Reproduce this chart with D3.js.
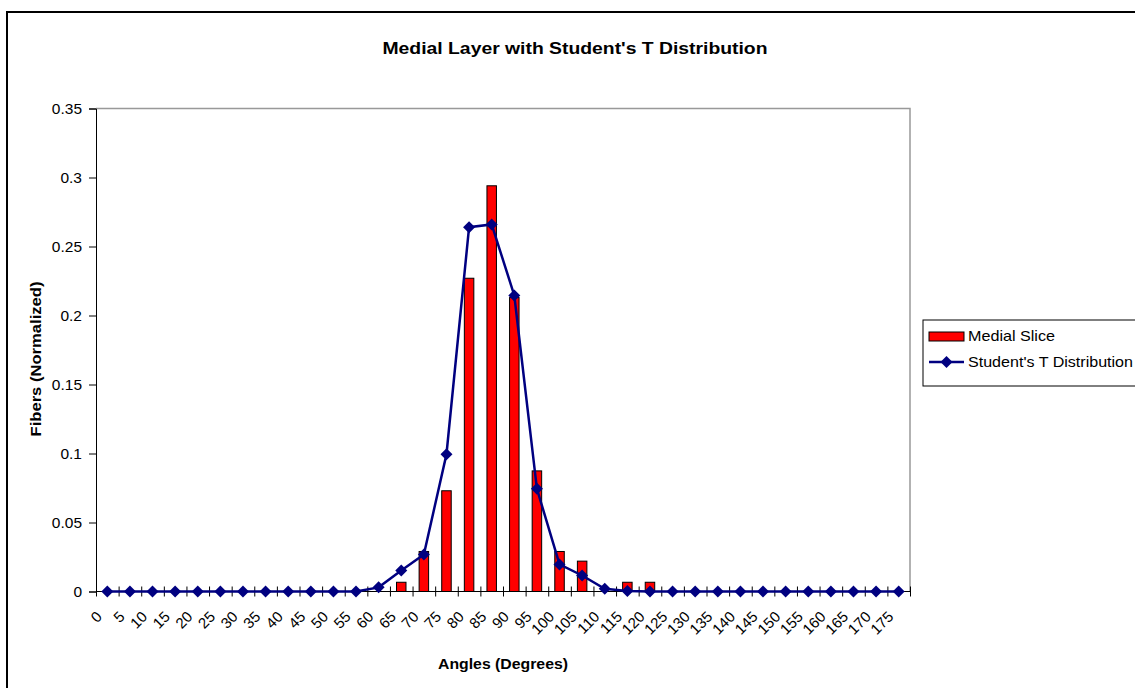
<!DOCTYPE html>
<html>
<head>
<meta charset="utf-8">
<script src="https://cdn.jsdelivr.net/npm/d3@7"></script>
<style>
  body { margin: 0; background: #fff; }
  text { font-family: "Liberation Sans", Arial, sans-serif; }
</style>
</head>
<body>
<div id="chart"></div>
<script>
// categories (angles) and the two series
var angles = ["0","5","10","15","20","25","30","35","40","45","50","55","60","65","70","75","80","85",
              "90","95","100","105","110","115","120","125","130","135","140","145","150","155","160","165","170","175"];
var medialSlice = [0,0,0,0,0,0,0,0,0,0,0,0,0,0.0067,0.029,0.073,0.227,0.294,
                   0.213,0.0874,0.029,0.022,0,0.0067,0.0067,0,0,0,0,0,0,0,0,0,0,0];
var studentT = [0,0,0,0,0,0,0,0,0,0,0,0,0.003,0.0152,0.0268,0.0995,0.264,0.266,
                0.2145,0.0744,0.0196,0.0116,0.002,0.0003,0,0,0,0,0,0,0,0,0,0,0,0];
var yTicks = [0, 0.05, 0.1, 0.15, 0.2, 0.25, 0.3, 0.35];
var yTickLabels = ["0","0.05","0.1","0.15","0.2","0.25","0.3","0.35"];

var W = 1135, H = 688;
var plot = {left: 96, right: 910, top: 108.5, bottom: 591.5};

var svg = d3.select("#chart").append("svg")
    .attr("width", W).attr("height", H);

// outer chart border
svg.append("rect")
    .attr("x", 7).attr("y", 12)
    .attr("width", W + 20).attr("height", H + 20)
    .attr("fill", "none").attr("stroke", "#000").attr("stroke-width", 2);

var x = d3.scaleBand().domain(angles).range([plot.left, plot.right]).padding(0);
var xb = d3.scaleLinear().domain([0, angles.length]).range([plot.left, plot.right]);
var y = d3.scaleLinear().domain([0, 0.35]).range([plot.bottom, plot.top]);

// plot area border (gray top/right)
svg.append("path")
    .attr("d", "M" + plot.left + "," + plot.top + "H" + plot.right + "V" + plot.bottom)
    .attr("fill", "none").attr("stroke", "#999").attr("stroke-width", 1.5);

// title
svg.append("text")
    .attr("x", 575).attr("y", 54)
    .attr("text-anchor", "middle")
    .attr("font-size", "17px").attr("font-weight", "bold")
    .attr("textLength", 385).attr("lengthAdjust", "spacingAndGlyphs")
    .text("Medial Layer with Student's T Distribution");

// y axis
var yAxis = svg.append("g")
    .attr("transform", "translate(" + plot.left + ",0)")
    .call(d3.axisLeft(y).tickValues(yTicks).tickSize(7).tickPadding(7)
        .tickFormat(function(d, i) { return yTickLabels[i]; }));
yAxis.select(".domain").attr("stroke", "#000");
yAxis.selectAll(".tick line").attr("stroke", "#000");
yAxis.selectAll("text").attr("font-size", "15.5px")
    .attr("font-family", "Liberation Sans, Arial, sans-serif").attr("fill", "#000");

// bars
var bw = x.bandwidth() * 0.42;
svg.append("g").selectAll("rect")
    .data(medialSlice.map(function(v, i) { return {a: angles[i], v: v}; }).filter(function(d) { return d.v > 0; }))
    .join("rect")
    .attr("x", function(d) { return x(d.a) + (x.bandwidth() - bw) / 2; })
    .attr("y", function(d) { return y(d.v); })
    .attr("width", bw)
    .attr("height", function(d) { return y(0) - y(d.v); })
    .attr("fill", "#ff0000")
    .attr("stroke", "#000").attr("stroke-width", 1);

// x axis with crossing ticks at category boundaries
var xAxis = svg.append("g")
    .attr("transform", "translate(0," + plot.bottom + ")")
    .call(d3.axisBottom(xb).tickValues(d3.range(angles.length + 1)).tickSize(6).tickFormat(""));
xAxis.select(".domain").attr("stroke", "#000").attr("d", "M" + plot.left + ",0H" + plot.right);
xAxis.selectAll(".tick line").attr("y1", -5).attr("y2", 5).attr("stroke", "#000");

// rotated x labels
svg.append("g").selectAll("text")
    .data(angles)
    .join("text")
    .attr("transform", function(d) {
        return "translate(" + (x(d) + x.bandwidth() / 2 - 8) + "," + 614 + ") rotate(-45)";
    })
    .attr("text-anchor", "end")
    .attr("dy", "0.35em")
    .attr("font-size", "15px")
    .text(function(d) { return d; });

// line series
var cx = function(i) { return x(angles[i]) + x.bandwidth() / 2; };
svg.append("path")
    .datum(studentT)
    .attr("fill", "none")
    .attr("stroke", "#000080")
    .attr("stroke-width", 2.5)
    .attr("d", d3.line()
        .x(function(d, i) { return cx(i); })
        .y(function(d) { return y(d); }));

var diamond = d3.symbol().type(d3.symbolSquare).size(72);
svg.append("g").selectAll("path")
    .data(studentT)
    .join("path")
    .attr("d", diamond)
    .attr("transform", function(d, i) { return "translate(" + cx(i) + "," + y(d) + ") rotate(45)"; })
    .attr("fill", "#000080");

// axis titles
svg.append("text")
    .attr("transform", "translate(41,359) rotate(-90)")
    .attr("text-anchor", "middle")
    .attr("font-size", "15px").attr("font-weight", "bold")
    .attr("textLength", 155).attr("lengthAdjust", "spacingAndGlyphs")
    .text("Fibers (Normalized)");

svg.append("text")
    .attr("x", 503).attr("y", 669)
    .attr("text-anchor", "middle")
    .attr("font-size", "15px").attr("font-weight", "bold")
    .attr("textLength", 130).attr("lengthAdjust", "spacingAndGlyphs")
    .text("Angles (Degrees)");

// legend
var lg = svg.append("g").attr("transform", "translate(923,320)");
lg.append("rect")
    .attr("width", 230).attr("height", 66)
    .attr("fill", "#fff").attr("stroke", "#000").attr("stroke-width", 1);
lg.append("rect")
    .attr("x", 6).attr("y", 12).attr("width", 35).attr("height", 9)
    .attr("fill", "#ff0000").attr("stroke", "#000").attr("stroke-width", 1);
lg.append("text")
    .attr("x", 45).attr("y", 21).attr("font-size", "14.5px")
    .attr("textLength", 87).attr("lengthAdjust", "spacingAndGlyphs")
    .text("Medial Slice");
lg.append("line")
    .attr("x1", 6).attr("x2", 41).attr("y1", 42).attr("y2", 42)
    .attr("stroke", "#000080").attr("stroke-width", 2.5);
lg.append("path")
    .attr("d", diamond)
    .attr("transform", "translate(23.5,42) rotate(45)")
    .attr("fill", "#000080");
lg.append("text")
    .attr("x", 45).attr("y", 47).attr("font-size", "14.5px")
    .attr("textLength", 165).attr("lengthAdjust", "spacingAndGlyphs")
    .text("Student's T Distribution");
</script>
</body>
</html>
